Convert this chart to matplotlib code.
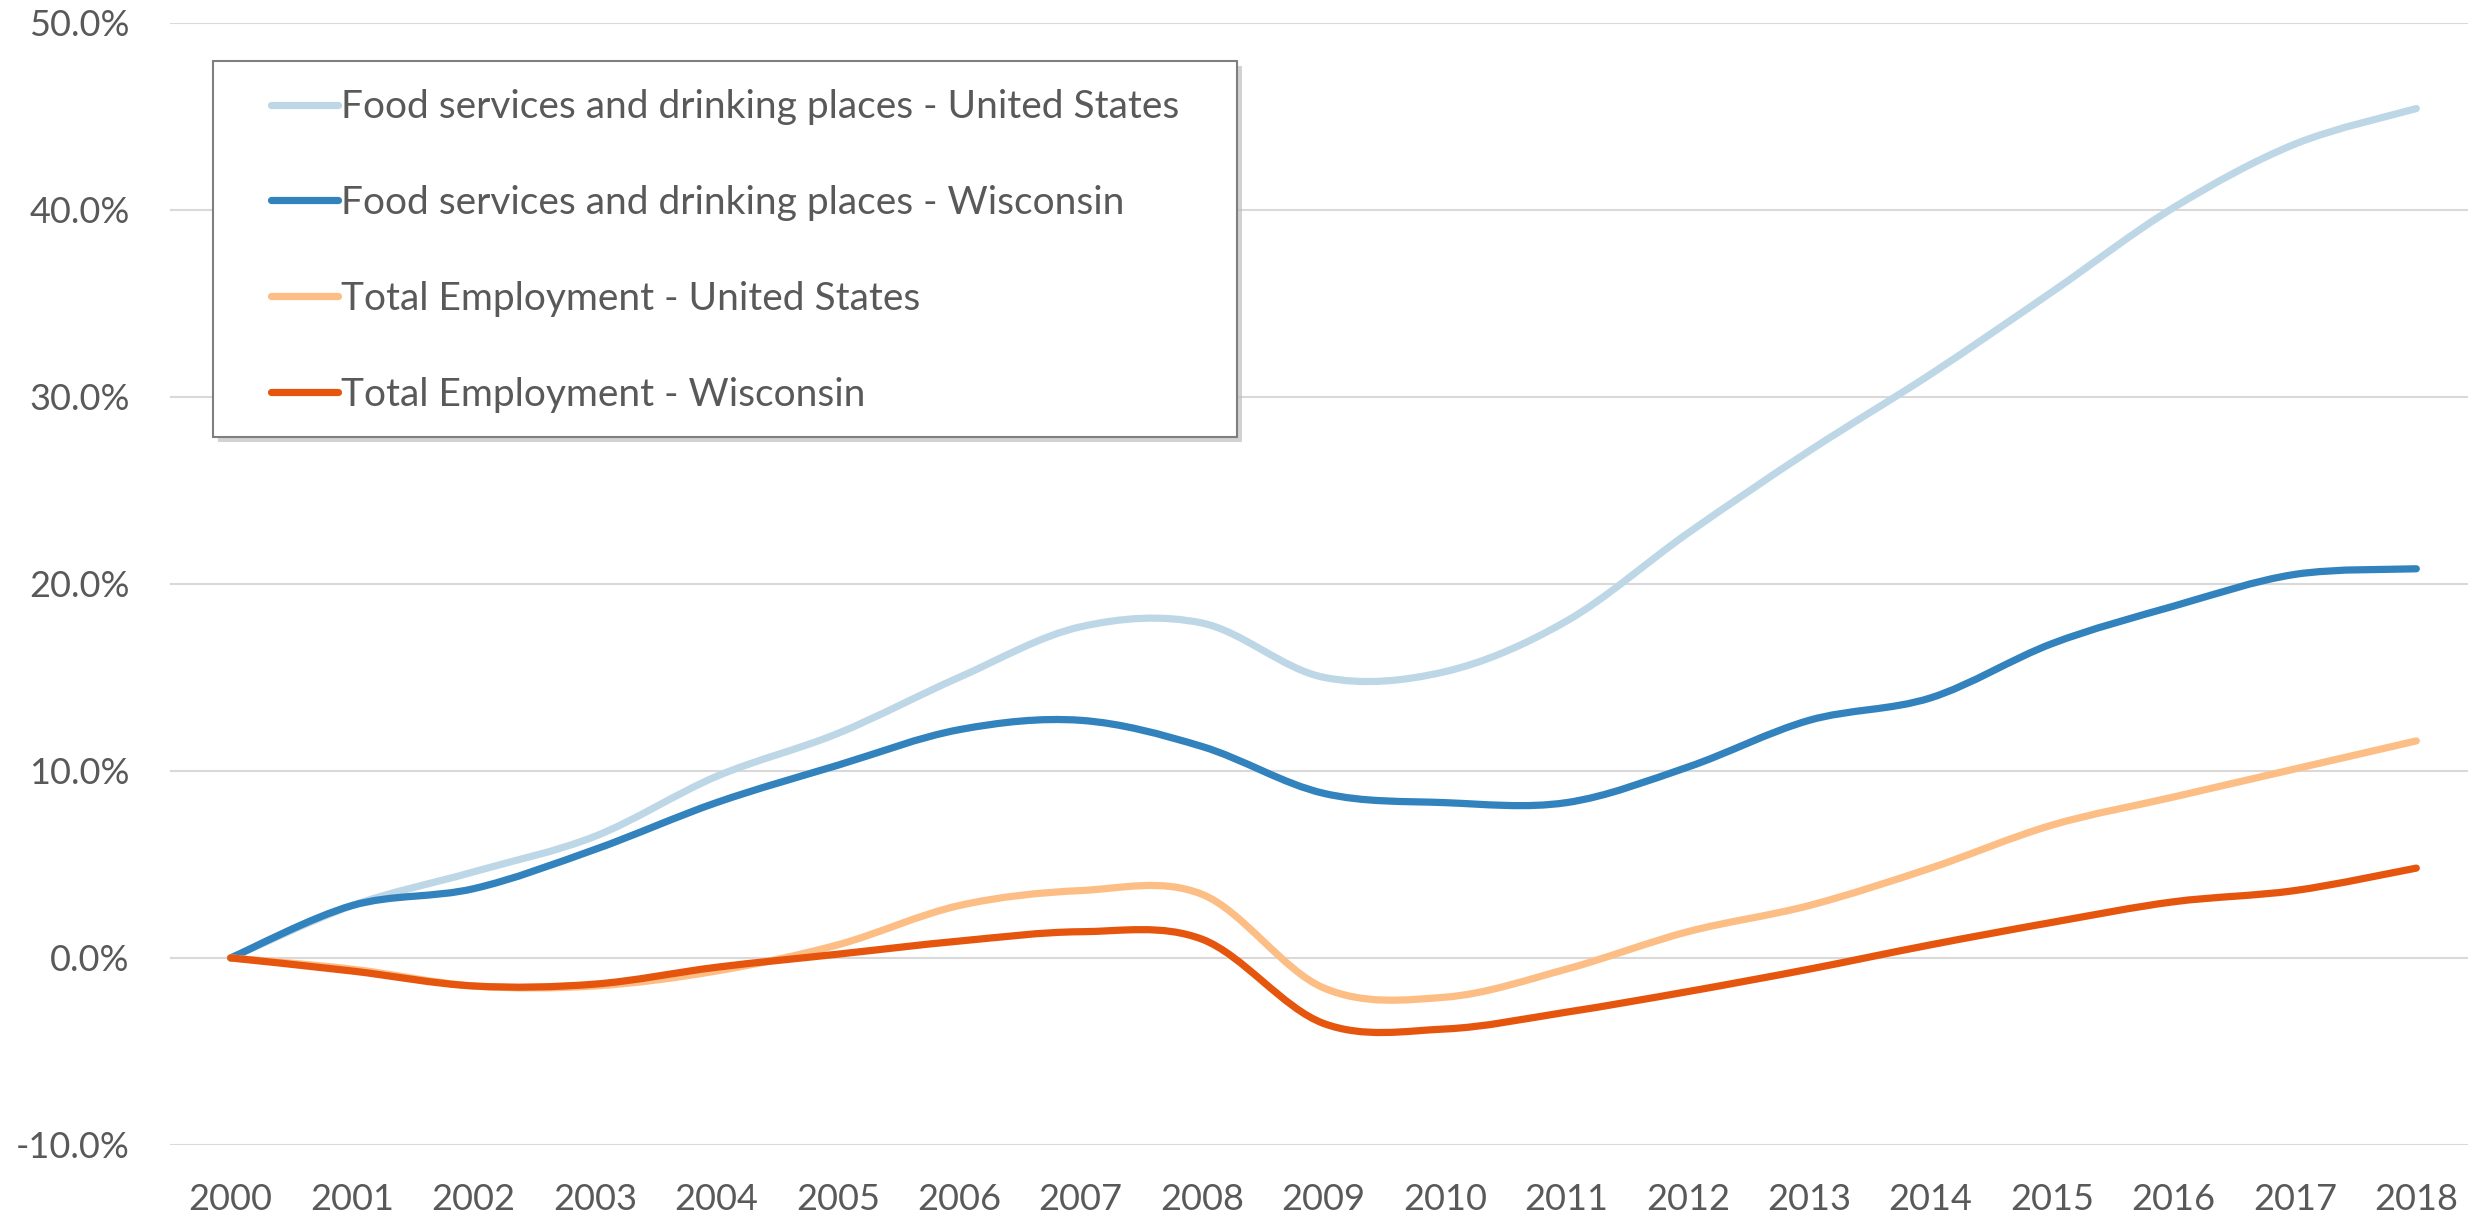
import numpy as np
import matplotlib.pyplot as plt
from matplotlib.path import Path
from matplotlib.patches import PathPatch, Rectangle
from matplotlib.lines import Line2D
from matplotlib.legend_handler import HandlerLine2D

plt.rcParams['font.family'] = ['Lato', 'DejaVu Sans']

# data (percent change since 2000)
years = ['2000', '2001', '2002', '2003', '2004', '2005', '2006', '2007', '2008', '2009',
         '2010', '2011', '2012', '2013', '2014', '2015', '2016', '2017', '2018']
food_us = [0.0, 2.8, 4.6, 6.5, 9.7, 12.0, 15.0, 17.7, 17.9, 15.0,
           15.3, 18.0, 22.7, 27.1, 31.2, 35.6, 40.1, 43.5, 45.4]
food_wi = [0.0, 2.8, 3.7, 5.8, 8.3, 10.3, 12.2, 12.7, 11.3, 8.8,
           8.3, 8.3, 10.2, 12.7, 13.9, 16.8, 18.8, 20.5, 20.8]
total_us = [0.0, -0.6, -1.5, -1.5, -0.7, 0.7, 2.8, 3.6, 3.4, -1.6,
            -2.1, -0.6, 1.4, 2.8, 4.8, 7.1, 8.6, 10.1, 11.6]
total_wi = [0.0, -0.7, -1.5, -1.4, -0.5, 0.2, 0.9, 1.4, 1.0, -3.5,
            -3.8, -2.9, -1.8, -0.6, 0.7, 1.9, 3.0, 3.6, 4.8]

series_names = ['Food services and drinking places - United States',
                'Food services and drinking places - Wisconsin',
                'Total Employment - United States',
                'Total Employment - Wisconsin']
series_colors = ['#bdd7e7', '#3182bd', '#fdbe85', '#e6550d']
y_ticks = [-10, 0, 10, 20, 30, 40, 50]
y_labels = ['-10.0%', '0.0%', '10.0%', '20.0%', '30.0%', '40.0%', '50.0%']

W, H = 2468, 1218
LW = 5.2
GRAY = '#595959'


def smooth_path(xs, ys):
    # excel-like smoothed line: cubic bezier with catmull-rom control points
    pts = np.column_stack([xs, ys]).astype(float)
    padded = np.vstack([pts[0], pts, pts[-1]])
    verts = [pts[0]]
    codes = [Path.MOVETO]
    for i in range(len(pts) - 1):
        p0, p1, p2, p3 = padded[i], padded[i + 1], padded[i + 2], padded[i + 3]
        verts += [p1 + (p2 - p0) / 6, p2 - (p3 - p1) / 6, p2]
        codes += [Path.CURVE4] * 3
    return Path(verts, codes)


fig = plt.figure(figsize=(W / 100, H / 100), dpi=100)
ax = fig.add_axes([170 / W, 1 - 1145 / H, (2477 - 170) / W, (1145 - 22.5) / H])

x = np.arange(len(years))
for vals, color in zip([food_us, food_wi, total_us, total_wi], series_colors):
    patch = PathPatch(smooth_path(x, vals), fill=False, edgecolor=color, lw=LW,
                      capstyle='round', joinstyle='round', zorder=3)
    ax.add_patch(patch)

ax.set_xlim(-0.5, 18.5)
ax.set_ylim(-10, 50)
ax.set_xticks(x)
ax.set_xticklabels(years)
ax.set_yticks(y_ticks)
ax.set_yticklabels(y_labels)
ax.tick_params(length=0, labelsize=26, labelcolor=GRAY)
ax.tick_params(axis='x', pad=27)
ax.tick_params(axis='y', pad=29)
ax.grid(axis='y', color='#d9d9d9', lw=1.5)
ax.set_axisbelow(True)
for s in ax.spines.values():
    s.set_visible(False)

# legend box with shadow
bx0, by0, bx1, by1 = 213, 61, 1237, 437
fig.patches.append(Rectangle(((bx0 + 5) / W, 1 - (by1 + 5) / H), (bx1 - bx0) / W, (by1 - by0) / H,
                             transform=fig.transFigure, facecolor='#bfbfbf', edgecolor='none',
                             alpha=0.7, zorder=2))
fig.patches.append(Rectangle((bx0 / W, 1 - by1 / H), (bx1 - bx0) / W, (by1 - by0) / H,
                             transform=fig.transFigure, facecolor='white', edgecolor='#7f7f7f',
                             lw=1.5, zorder=3))

handles = [Line2D([], [], color=c, lw=LW, solid_capstyle='round') for c in series_colors]
leg = fig.legend(handles, series_names, loc='center left',
                 bbox_to_anchor=(252 / W, 1 - 251 / H), bbox_transform=fig.transFigure,
                 frameon=False, fontsize=28, labelcolor=GRAY, borderpad=0,
                 handlelength=1.7, handletextpad=0.08, labelspacing=1.54,
                 handler_map={Line2D: HandlerLine2D()})
leg.set_zorder(5)

fig.savefig('out.png', dpi=100)
